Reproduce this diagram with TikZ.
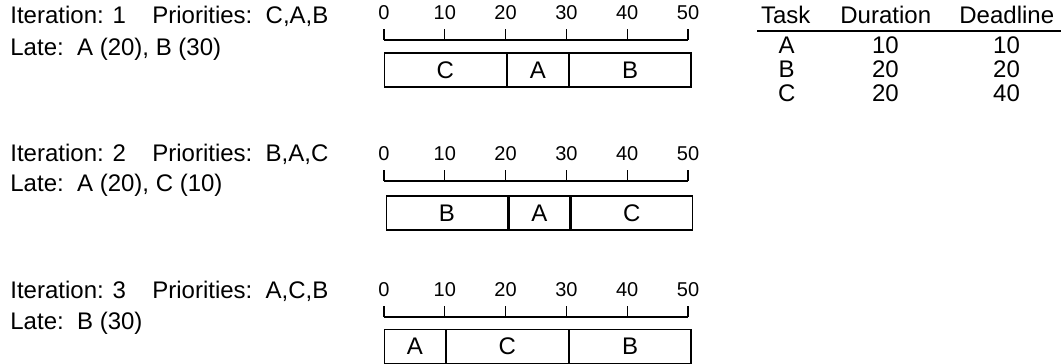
\documentclass[tikz,border=0pt]{standalone}
\usepackage{fontspec}
\setmainfont{Liberation Sans}
\begin{document}
\begin{tikzpicture}[x=0.5pt,y=-0.5pt,
  txt/.style={anchor=base west,inner sep=0pt,font=\fontsize{12}{14}\selectfont},
  ticklab/.style={anchor=base,inner sep=0pt,font=\fontsize{10}{12}\selectfont},
  cell/.style={anchor=base,inner sep=0pt,font=\fontsize{12}{14}\selectfont},
  axisline/.style={line width=0.6pt},
  seg/.style={draw,line width=0.6pt,inner sep=0pt,minimum height=17pt,anchor=west,font=\fontsize{12}{14}\selectfont},
  rule/.style={line width=0.7pt}]
\useasboundingbox (0,0) rectangle (1061,364);

% ---------- left texts ----------
\node[txt] (it1) at (10,24) {Iteration: 1};
\node[txt] (pr1) at (152,24) {Priorities:\ \ C,A,B};
\node[txt] (la1) at (10,55.5) {Late:\ \ A (20), B (30)};
\node[txt] (it2) at (10,161) {Iteration: 2};
\node[txt] (pr2) at (152,161) {Priorities:\ \ B,A,C};
\node[txt] (la2) at (10,191.5) {Late:\ \ A (20), C (10)};
\node[txt] (it3) at (10,298.5) {Iteration: 3};
\node[txt] (pr3) at (152,298.5) {Priorities:\ \ A,C,B};
\node[txt] (la3) at (10,329.5) {Late:\ \ B (30)};

% ---------- axes ----------
\foreach \r/\ay in {1/40,2/181,3/317}{
  \draw[axisline] (384,\ay) -- (688,\ay);
  \foreach \v in {0,10,...,50}{
    \draw[axisline] ({384+6.08*\v},\ay) -- ++(0,-11);
    \node[ticklab] (t\r-\v) at ({384+6.08*\v},\ay-21) {\v};
  }
}

% ---------- schedules ----------
\node[seg,minimum width=60.8pt] (r1c) at (384,70) {C};
\node[seg,minimum width=30.4pt] (r1a) at (r1c.east) {A};
\node[seg,minimum width=60.8pt] (r1b) at (r1a.east) {B};

\node[seg,minimum width=60.8pt] (r2b) at (385.5,213) {B};
\node[seg,minimum width=30.4pt] (r2a) at (r2b.east) {A};
\node[seg,minimum width=60.8pt] (r2c) at (r2a.east) {C};

\node[seg,minimum width=30.4pt] (r3a) at (384,346.5) {A};
\node[seg,minimum width=60.8pt] (r3c) at (r3a.east) {C};
\node[seg,minimum width=60.8pt] (r3b) at (r3c.east) {B};

% ---------- table ----------
\node[txt] (hT) at (760.7,24) {Task};
\node[txt] (hD) at (840,24) {Duration};
\node[txt] (hL) at (959,24) {Deadline};
\coordinate (ruleL) at (757,31);
\coordinate (ruleR) at (1061,31);
\draw[rule] (ruleL) -- (ruleR);
\foreach \n/\t/\d/\l/\yy in {A/A/10/10/54,B/B/20/20/77.5,C/C/20/40/101}{
  \node[cell] (c\n1) at (786.7,\yy) {\t};
  \node[cell] (c\n2) at (885.4,\yy) {\d};
  \node[cell] (c\n3) at (1006.5,\yy) {\l};
}
\end{tikzpicture}
\end{document}
